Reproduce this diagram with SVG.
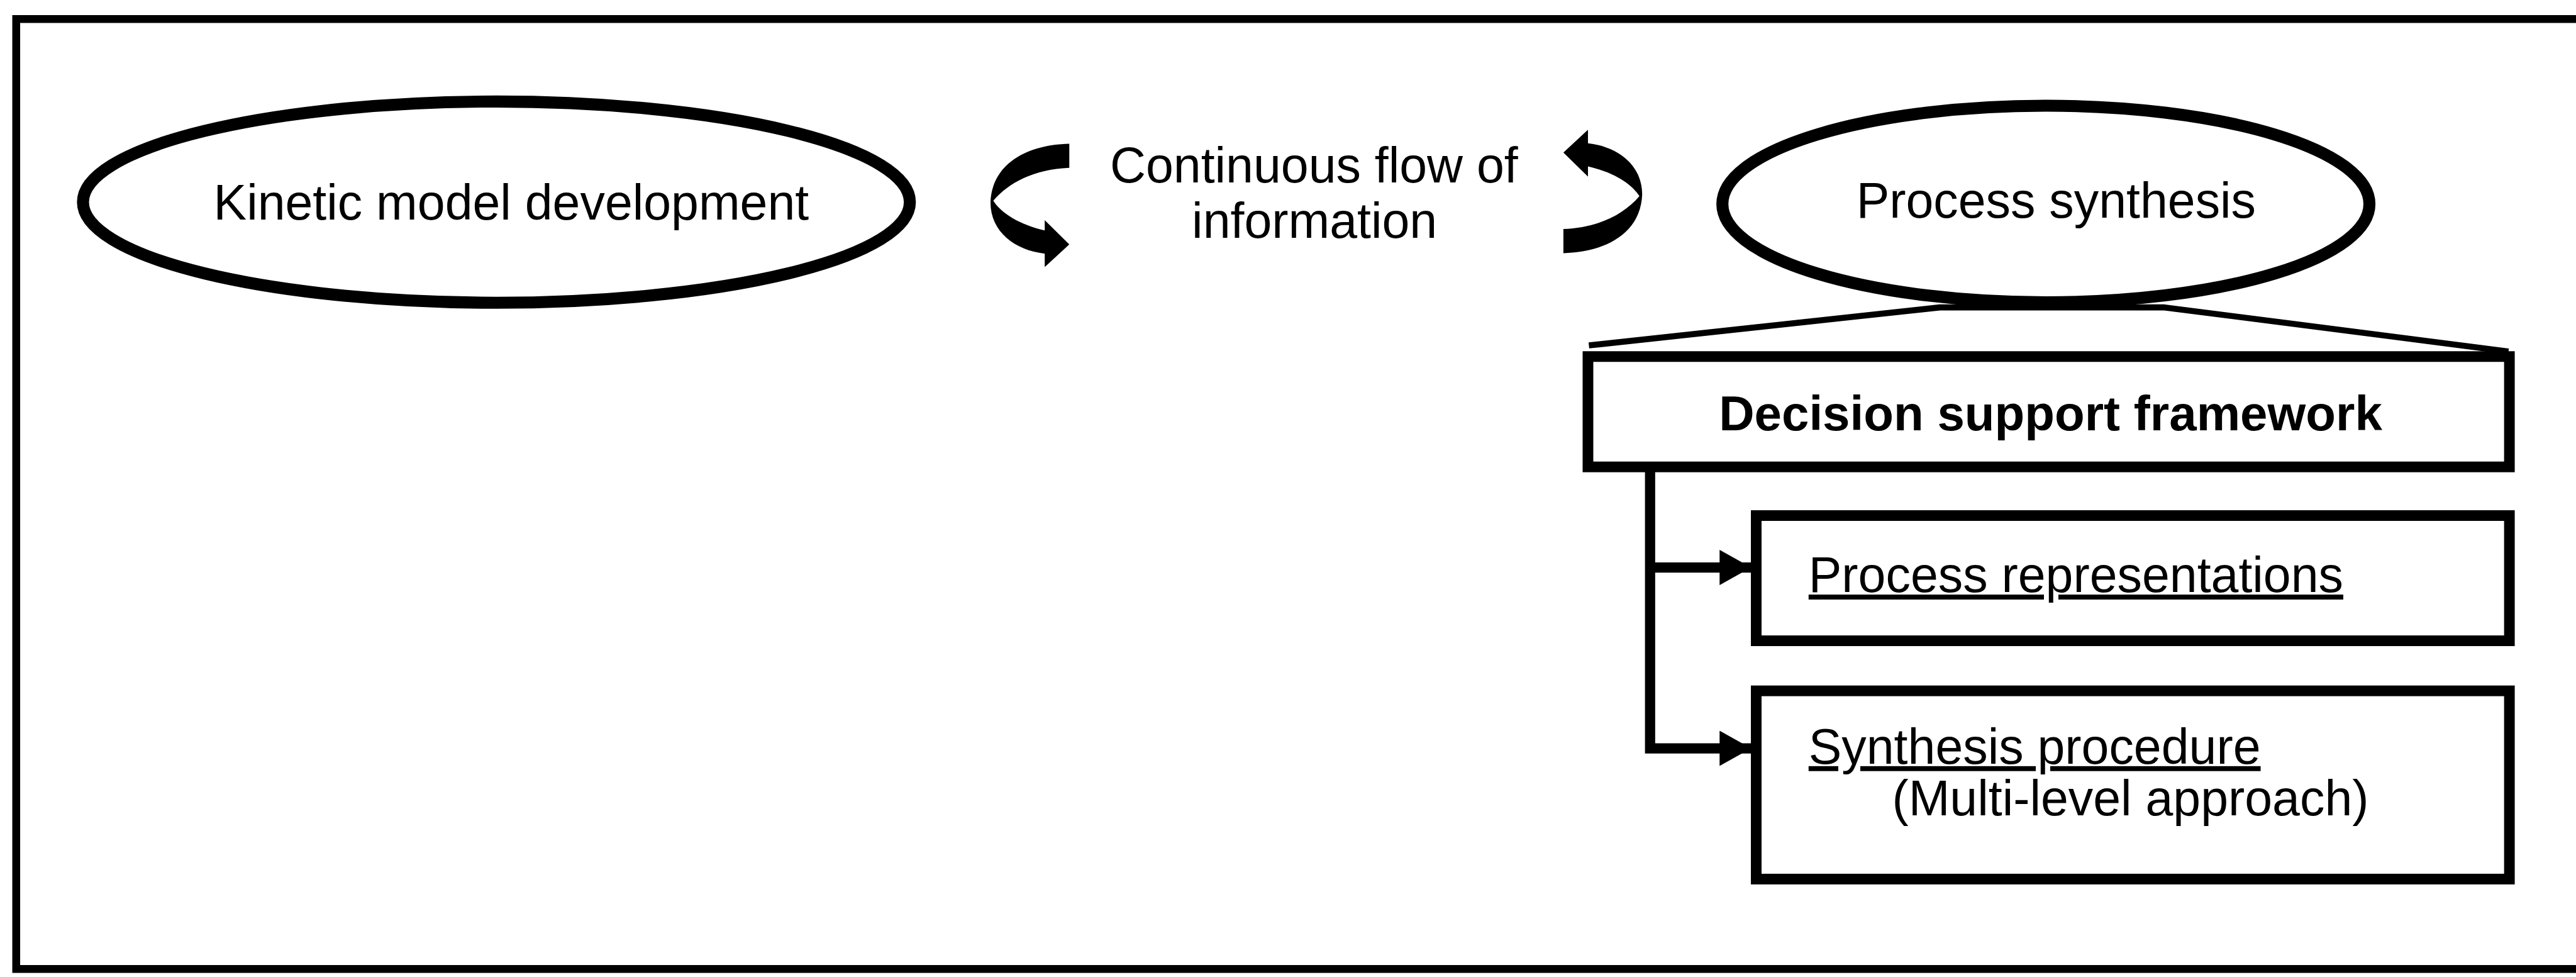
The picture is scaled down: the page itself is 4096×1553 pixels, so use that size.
<svg xmlns="http://www.w3.org/2000/svg" width="4096" height="1553" viewBox="0 0 4096 1553">
  <style>
    .frame { fill: none; stroke: #000; stroke-width: 17; }
    .oval { fill: #fff; stroke: #000; stroke-width: 26; }
    .box { fill: #fff; stroke: #000; stroke-width: 23; }
    .label { font-family: "Liberation Sans", Arial, sans-serif; font-size: 107px; fill: #000; }
    .bold { font-weight: bold; font-size: 106px; }
    .link { fill: none; stroke: #000; stroke-width: 22; stroke-linejoin: miter; }
    .zoom { fill: none; stroke: #000; stroke-width: 13; stroke-linejoin: round; }
    .swirl { fill: #000; stroke: none; }
  </style>
  <defs>
    <marker id="head" markerUnits="userSpaceOnUse" markerWidth="70" markerHeight="76" viewBox="0 0 70 76" refX="68" refY="38" orient="auto">
      <path d="M0,0 L68,38 L0,76 Z" fill="#000"/>
    </marker>
    <!-- curved ribbon arrow used twice (second copy rotated half a turn) -->
    <path id="swirl" class="swirl" d="M2307,310 C2220,312 2140,350 2137,437 C2137,500 2190,540 2254,547 L2254,576 L2307,527 L2254,475 L2254,497 C2200,485 2160,460 2143,433 C2175,395 2230,365 2307,362 Z"/>
  </defs>
  <rect width="4096" height="1553" fill="#fff"/>
  <g transform="scale(0.737)">
    <!-- outer frame (open on the right) -->
    <path class="frame" d="M5620,41 L35,41 L35,2090 L5620,2090"/>

    <g id="kinetic-model">
      <ellipse class="oval" cx="1071" cy="436" rx="892" ry="217"/>
      <text class="label" x="1103" y="473" text-anchor="middle">Kinetic model development</text>
    </g>

    <g id="information-flow">
      <use href="#swirl"/>
      <use href="#swirl" transform="rotate(180 2840 428)"/>
      <text class="label" x="2835" y="393" text-anchor="middle">Continuous flow of</text>
      <text class="label" x="2836" y="513" text-anchor="middle">information</text>
    </g>

    <g id="connectors">
      <!-- ellipse widening into the framework box -->
      <path class="zoom" d="M3428,745 L4185,663 L4670,663 L5412,758"/>
      <!-- branches from the framework box -->
      <path class="link" d="M3560,1013 L3560,1614 L3778,1614" marker-end="url(#head)"/>
      <path class="link" d="M3560,1224 L3778,1224" marker-end="url(#head)"/>
    </g>

    <g id="process-synthesis">
      <ellipse class="oval" cx="4414" cy="440" rx="698" ry="212"/>
      <text class="label" x="4436" y="470" text-anchor="middle">Process synthesis</text>
    </g>

    <g id="decision-support">
      <rect class="box" x="3426" y="769" width="1988" height="238" stroke-width="22"/>
      <text class="label bold" x="4424" y="928" text-anchor="middle">Decision support framework</text>
    </g>

    <g id="process-representations">
      <rect class="box" x="3789" y="1112" width="1625" height="270"/>
      <text class="label" x="3902" y="1277" text-decoration="underline">Process representations</text>
    </g>

    <g id="synthesis-procedure">
      <rect class="box" x="3789" y="1490" width="1625" height="406"/>
      <text class="label" x="3902" y="1647" text-decoration="underline">Synthesis procedure</text>
      <text class="label" x="4082" y="1759">(Multi-level approach)</text>
    </g>
  </g>
</svg>
